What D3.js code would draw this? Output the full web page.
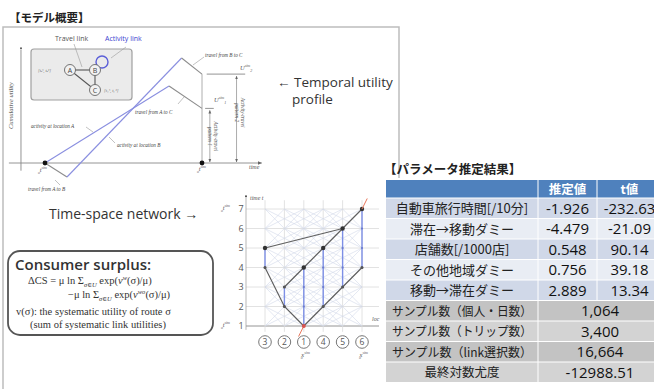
<!DOCTYPE html>
<html>
<head>
<meta charset="utf-8">
<script src="https://cdn.jsdelivr.net/npm/d3@7"></script>
<style>
  body { margin: 0; background: #fff; }
  svg { display: block; }
</style>
</head>
<body>
<svg id="chart" width="654" height="389"></svg>
<script>
// ---------- parameter estimation results ----------
const headerLabels = ["", "推定値", "t値"];
const paramLabels = ["自動車旅行時間[/10分]", "滞在→移動ダミー", "店舗数[/1000店]", "その他地域ダミー", "移動→滞在ダミー"];
const estimates = ["-1.926", "-4.479", "0.548", "0.756", "2.889"];
const tValues = ["-232.63", "-21.09", "90.14", "39.18", "13.34"];
const sampleLabels = ["サンプル数（個人・日数）", "サンプル数（トリップ数）", "サンプル数（link選択数）", "最終対数尤度"];
const sampleValues = ["1,064", "3,400", "16,664", "-12988.51"];

// ---------- temporal utility profile: time vs cumulative utility ----------
const routeA = [{t: 0, u: 0}, {t: 7.9, u: 5.5, link: "activity"}, {t: 10, u: 3.9, link: "travel"}];
const routeB = [{t: 0, u: 0}, {t: 1.4, u: -1, link: "travel"}, {t: 8.7, u: 7.5, link: "activity"}, {t: 10, u: 6.35, link: "travel"}];
const finalUtility = [3.9, 6.35];

// ---------- time-space network ----------
const locations = ["3", "2", "1", "4", "5", "6"];
const timeSteps = [1, 2, 3, 4, 5, 6, 7];
const travelPaths = [
  [["1", 1], ["2", 2], ["3", 4]],
  [["3", 5], ["5", 6]],
  [["2", 3], ["1", 4], ["4", 5], ["5", 6], ["6", 7]],
  [["1", 1], ["4", 2], ["5", 3], ["6", 4]]
];
const stayLinks = [["1", 1, 4], ["4", 2, 5], ["5", 3, 6], ["6", 4, 7], ["3", 4, 5], ["2", 2, 3]];
const keyNodes = [["1", 4], ["4", 5], ["5", 6], ["6", 7], ["3", 5]];
const minorNodes = [["3", 4], ["2", 2], ["2", 3], ["4", 2], ["5", 3], ["6", 4]];

const svg = d3.select("#chart");
const serif = "'Liberation Serif','DejaVu Serif',serif";
const sans = "'Open Sans','Noto Sans',sans-serif";
const jp = "'Noto Sans CJK JP','Noto Sans',sans-serif";

svg.append("rect").attr("width", 654).attr("height", 389).attr("fill", "#fff");

const defs = svg.append("defs");
defs.append("marker").attr("id", "arr").attr("viewBox", "0 0 10 10")
  .attr("refX", 9).attr("refY", 5).attr("markerWidth", 5).attr("markerHeight", 5)
  .attr("orient", "auto-start-reverse")
  .append("path").attr("d", "M0,1 L10,5 L0,9 Z").attr("fill", "#666");

// ---------- section title and frame ----------
svg.append("text").attr("x", 9).attr("y", 22).attr("font-family", jp).attr("font-weight", 700)
  .attr("font-size", 11.5).attr("fill", "#222").text("【モデル概要】");
svg.append("path").attr("d", "M3,389 V27 H399 V178").attr("fill", "none")
  .attr("stroke", "#bdbdbd").attr("stroke-width", 1.5);

// ---------- utility profile ----------
const px = d3.scaleLinear().domain([0, 10]).range([45, 202]);
const py = d3.scaleLinear().domain([0, 7.5]).range([163, 58]);
const gP = svg.append("g");

// axes
gP.append("line").attr("x1", px(-2.3)).attr("x2", px(13.8)).attr("y1", py(0)).attr("y2", py(0))
  .attr("stroke", "#888").attr("stroke-width", 0.9).attr("marker-end", "url(#arr)");
gP.append("line").attr("x1", px(-1.53)).attr("x2", px(-1.53)).attr("y1", py(-0.55)).attr("y2", py(8.1))
  .attr("stroke", "#888").attr("stroke-width", 0.9);
gP.append("circle").attr("cx", px(-1.53)).attr("cy", py(8.2)).attr("r", 1).attr("fill", "#555");
gP.append("text").attr("transform", `translate(13,${py(4.1)}) rotate(-90)`).attr("text-anchor", "middle")
  .attr("font-family", serif).attr("font-style", "italic").attr("font-size", 6.5).attr("fill", "#555")
  .text("Cumulative utility");

// vertical references and final utility levels
gP.append("line").attr("x1", px(10)).attr("x2", px(10)).attr("y1", py(finalUtility[1])).attr("y2", py(0))
  .attr("stroke", "#999").attr("stroke-width", 0.8);
gP.append("line").attr("x1", px(10.3)).attr("x2", px(12.75)).attr("y1", py(finalUtility[1])).attr("y2", py(finalUtility[1]))
  .attr("stroke", "#888").attr("stroke-width", 0.9);
gP.append("line").attr("x1", px(10.2)).attr("x2", px(10.75)).attr("y1", py(finalUtility[0])).attr("y2", py(finalUtility[0]))
  .attr("stroke", "#888").attr("stroke-width", 0.9);
[[10.5, finalUtility[0]], [12.2, finalUtility[1]]].forEach(([t, u]) => {
  gP.append("line").attr("x1", px(t)).attr("x2", px(t)).attr("y1", py(u) + 2).attr("y2", py(0) - 1)
    .attr("stroke", "#888").attr("stroke-width", 0.7)
    .attr("marker-start", "url(#arr)").attr("marker-end", "url(#arr)");
});
[["Activity-travel", "pattern 1", 10.75, 1.9], ["Activity-travel", "pattern 2", 12.5, 3.6]].forEach(([a, b, t, u]) => {
  const tx = gP.append("text").attr("transform", `translate(${px(t)},${py(u)}) rotate(90)`)
    .attr("text-anchor", "middle").attr("font-family", serif).attr("font-style", "italic")
    .attr("font-size", 5.2).attr("fill", "#555");
  tx.append("tspan").attr("x", 0).attr("dy", 0).text(a);
  tx.append("tspan").attr("x", 0).attr("dy", 6).text(b);
});

// route profiles
const profileColor = {activity: "#8a8fe0", travel: "#8c8c8c"};
[routeA, routeB].forEach(route => {
  route.slice(1).forEach((p, i) => {
    const q = route[i];
    gP.append("line").attr("x1", px(q.t)).attr("y1", py(q.u)).attr("x2", px(p.t)).attr("y2", py(p.u))
      .attr("stroke", profileColor[p.link]).attr("stroke-width", 1.1);
  });
});
gP.selectAll("circle.o").data([0, 10]).join("circle").attr("cx", d => px(d)).attr("cy", py(0))
  .attr("r", 2.4).attr("fill", "#111");

// small annotations with pointers
const notes = [
  {txt: "travel from B to C", x: 205, y: 57, p: [204, 57, 193, 65]},
  {txt: "travel from A to C", x: 135, y: 114, p: [178, 104, 184, 97]},
  {txt: "activity at location A", x: 31, y: 128, p: [86, 127, 93, 132]},
  {txt: "activity at location B", x: 117, y: 147, p: [115, 143, 109, 137]},
  {txt: "travel from A to B", x: 28, y: 191, p: [55, 180, 60, 185]}
];
notes.forEach(n => {
  gP.append("text").attr("x", n.x).attr("y", n.y).attr("font-family", serif).attr("font-style", "italic")
    .attr("font-size", 5.2).attr("fill", "#444").text(n.txt);
  gP.append("line").attr("x1", n.p[0]).attr("y1", n.p[1]).attr("x2", n.p[2]).attr("y2", n.p[3])
    .attr("stroke", "#999").attr("stroke-width", 0.6);
});
// symbol with stacked superscript and subscript
const symbol = (x, y, main, sub, sup, g) => {
  const t = g.append("text").attr("x", x).attr("y", y).attr("font-family", serif).attr("font-style", "italic")
    .attr("font-size", 6.5).attr("fill", "#555");
  t.append("tspan").text(main);
  t.append("tspan").attr("font-size", 4).attr("dy", -3).text(sup);
  t.append("tspan").attr("font-size", 4).attr("dx", -9).attr("dy", 5).text(sub);
};
// symbol with superscript followed by subscript
const symbolSeq = (x, y, main, sub, sup, g) => {
  const t = g.append("text").attr("x", x).attr("y", y).attr("font-family", serif).attr("font-style", "italic")
    .attr("font-size", 6.5).attr("fill", "#555");
  t.append("tspan").text(main);
  t.append("tspan").attr("font-size", 4).attr("dy", -3).text(sup);
  t.append("tspan").attr("font-size", 4).attr("dy", 5).text(sub);
};
symbolSeq(240, 70, "U", "2", "sim", gP);
symbolSeq(214, 102, "U", "1", "sim", gP);
symbol(38, 172, "t", "o", "sim", gP);
symbol(197, 171, "t", "o", "sim", gP);
gP.append("text").attr("x", 249).attr("y", 169).attr("font-family", serif).attr("font-style", "italic")
  .attr("font-size", 6).attr("fill", "#555").text("time");

// inset network of locations
const gI = svg.append("g");
gI.append("rect").attr("x", 31).attr("y", 49).attr("width", 101).attr("height", 51).attr("rx", 3)
  .attr("fill", "#ebebeb").attr("stroke", "#a0a0a0").attr("stroke-width", 1.2);
const insetNodes = [{id: "A", gx: 0, gy: 0}, {id: "B", gx: 1, gy: 0}, {id: "C", gx: 1, gy: 1}];
const ix = d3.scaleLinear().domain([0, 1]).range([70, 95]);
const iy = d3.scaleLinear().domain([0, 1]).range([70, 90]);
const nodeById = Object.fromEntries(insetNodes.map(n => [n.id, n]));
[["A", "B"], ["B", "C"], ["A", "C"]].forEach(([a, b]) => {
  gI.append("line").attr("x1", ix(nodeById[a].gx)).attr("y1", iy(nodeById[a].gy))
    .attr("x2", ix(nodeById[b].gx)).attr("y2", iy(nodeById[b].gy)).attr("stroke", "#555").attr("stroke-width", 1.1);
});
gI.append("circle").attr("cx", ix(1) + 7).attr("cy", iy(0) - 8).attr("r", 6)
  .attr("fill", "none").attr("stroke", "#5b5fd8").attr("stroke-width", 1.4);
insetNodes.forEach(n => {
  gI.append("circle").attr("cx", ix(n.gx)).attr("cy", iy(n.gy)).attr("r", 5.5)
    .attr("fill", "#f2f2f2").attr("stroke", "#666").attr("stroke-width", 0.9);
  gI.append("text").attr("x", ix(n.gx)).attr("y", iy(n.gy) + 2.5).attr("text-anchor", "middle")
    .attr("font-family", sans).attr("font-size", 7).attr("fill", "#444").text(n.id);
});
gI.append("text").attr("x", 38).attr("y", 72).attr("font-family", serif).attr("font-style", "italic")
  .attr("font-size", 4.5).attr("fill", "#777").text("[tₐˢ, tₐᵉ]");
gI.append("text").attr("x", 104).attr("y", 92).attr("font-family", serif).attr("font-style", "italic")
  .attr("font-size", 4.5).attr("fill", "#777").text("[t꜀ˢ, t꜀ᵉ]");
gI.append("text").attr("x", 55).attr("y", 41).attr("font-family", sans).attr("font-size", 7)
  .attr("fill", "#555").text("Travel link");
gI.append("text").attr("x", 105).attr("y", 41).attr("font-family", sans).attr("font-size", 7)
  .attr("fill", "#3d3fd0").text("Activity link");
gI.append("line").attr("x1", 74).attr("y1", 44).attr("x2", 82).attr("y2", 67).attr("stroke", "#999").attr("stroke-width", 0.6);
gI.append("line").attr("x1", 126).attr("y1", 47).attr("x2", 111).attr("y2", 58).attr("stroke", "#999").attr("stroke-width", 0.6);

// captions
svg.append("text").attr("x", 277).attr("y", 87).attr("font-family", sans).attr("font-size", 13.5)
  .attr("fill", "#333").text("← Temporal utility");
svg.append("text").attr("x", 292).attr("y", 104).attr("font-family", sans).attr("font-size", 13.5)
  .attr("fill", "#333").text("profile");
svg.append("text").attr("x", 49).attr("y", 219).attr("font-family", sans).attr("font-size", 14)
  .attr("fill", "#333").text("Time-space network →");

// ---------- time-space network diagram ----------
const nx = d3.scalePoint().domain(locations).range([265, 362]);
const ny = d3.scaleLinear().domain([1, 7]).range([326, 209]);
const gN = svg.append("g");

// background grid: time rows, location columns and candidate travel links
timeSteps.forEach(t => {
  gN.append("line").attr("x1", 246).attr("x2", 379).attr("y1", ny(t)).attr("y2", ny(t))
    .attr("stroke", t === 1 ? "#888" : "#dadada").attr("stroke-width", t === 1 ? 0.9 : 0.8);
});
locations.forEach(l => {
  gN.append("line").attr("x1", nx(l)).attr("x2", nx(l)).attr("y1", ny(7.45)).attr("y2", ny(0.7))
    .attr("stroke", "#dadada").attr("stroke-width", 0.8);
});
timeSteps.slice(0, -1).forEach(t => {
  locations.forEach((a, i) => {
    locations.forEach((b, j) => {
      const d = Math.abs(i - j);
      if (d === 1 || d === 2) {
        gN.append("line").attr("x1", nx(a)).attr("y1", ny(t)).attr("x2", nx(b)).attr("y2", ny(t + 1))
          .attr("stroke", "#d2d9ea").attr("stroke-width", 0.6);
      }
    });
  });
});
gN.append("line").attr("x1", 246).attr("x2", 246).attr("y1", ny(0.8)).attr("y2", ny(7.6))
  .attr("stroke", "#999").attr("stroke-width", 0.7);
gN.append("circle").attr("cx", 246).attr("cy", ny(7.65)).attr("r", 1).attr("fill", "#444");
gN.append("text").attr("x", 250).attr("y", 200).attr("font-family", serif).attr("font-style", "italic")
  .attr("font-size", 6).attr("fill", "#555").text("time t");
gN.append("text").attr("x", 372).attr("y", 321).attr("font-family", serif).attr("font-style", "italic")
  .attr("font-size", 6).attr("fill", "#555").text("loc");

timeSteps.forEach(t => {
  gN.append("text").attr("x", 241).attr("y", ny(t) + 3).attr("text-anchor", "middle")
    .attr("font-family", sans).attr("font-size", 9).attr("fill", "#555").text(t);
});
symbol(221, ny(7) + 1, "t", "o", "sim", gN);
symbol(221, ny(1) + 1, "t", "o", "sim", gN);

// stay (activity) links
stayLinks.forEach(([l, t0, t1]) => {
  gN.append("line").attr("x1", nx(l)).attr("x2", nx(l)).attr("y1", ny(t0)).attr("y2", ny(t1))
    .attr("stroke", "#7d8fe6").attr("stroke-width", 1.4);
  d3.range(t0, t1 + 1).forEach(t => {
    gN.append("circle").attr("cx", nx(l)).attr("cy", ny(t)).attr("r", 1.1).attr("fill", "#6b7bd0");
  });
});
// chosen travel links
const lineGen = d3.line().x(d => nx(d[0])).y(d => ny(d[1]));
travelPaths.forEach(p => {
  gN.append("path").attr("d", lineGen(p)).attr("fill", "none").attr("stroke", "#606060").attr("stroke-width", 1.2);
});
minorNodes.forEach(([l, t]) => {
  gN.append("circle").attr("cx", nx(l)).attr("cy", ny(t)).attr("r", 1.5).attr("fill", "#555");
});
keyNodes.forEach(([l, t]) => {
  gN.append("circle").attr("cx", nx(l)).attr("cy", ny(t)).attr("r", 2.2).attr("fill", "#333");
});
// origin/destination stubs
const o = [nx("1"), ny(1)], dN = [nx("6"), ny(7)];
const dx = (dN[0] - o[0]) * 0.09, dy = (dN[1] - o[1]) * 0.09;
[[o[0] - dx, o[1] - dy, o[0], o[1]], [dN[0], dN[1], dN[0] + dx, dN[1] + dy]].forEach(s => {
  gN.append("line").attr("x1", s[0]).attr("y1", s[1]).attr("x2", s[2]).attr("y2", s[3])
    .attr("stroke", "#e8765a").attr("stroke-width", 1);
});
gN.append("circle").attr("cx", o[0]).attr("cy", o[1]).attr("r", 2).attr("fill", "#d9534f");

// circled location labels
locations.forEach(l => {
  gN.append("circle").attr("cx", nx(l)).attr("cy", 342).attr("r", 6.3)
    .attr("fill", "#fff").attr("stroke", "#777").attr("stroke-width", 1);
  gN.append("text").attr("x", nx(l)).attr("y", 345.2).attr("text-anchor", "middle")
    .attr("font-family", sans).attr("font-size", 8.5).attr("fill", "#555").text(l);
});
symbol(nx("1") - 3, 357, "x", "o", "sim", gN);
symbol(nx("6") - 3, 357, "x", "o", "sim", gN);

// ---------- consumer surplus box ----------
const gC = svg.append("g");
gC.append("rect").attr("x", 8).attr("y", 251).attr("width", 205).attr("height", 84).attr("rx", 12)
  .attr("fill", "#fff").attr("stroke", "#555").attr("stroke-width", 1.8);
gC.append("text").attr("x", 15).attr("y", 270).attr("font-family", sans).attr("font-weight", 600)
  .attr("font-size", 15).attr("fill", "#333").text("Consumer surplus:");
const f1 = gC.append("text").attr("x", 28).attr("y", 284).attr("font-family", serif).attr("font-size", 10.5).attr("fill", "#333");
f1.append("tspan").text("ΔCS = μ ln Σ");
f1.append("tspan").attr("font-size", 6.5).attr("dy", 3).attr("font-style", "italic").text("σ∈U");
f1.append("tspan").attr("dy", -3).text(" exp(");
f1.append("tspan").attr("font-style", "italic").text("v");
f1.append("tspan").attr("font-size", 6.5).attr("dy", -4).attr("font-style", "italic").text("w");
f1.append("tspan").attr("dy", 4).text("(σ)/μ)");
const f2 = gC.append("text").attr("x", 68).attr("y", 298).attr("font-family", serif).attr("font-size", 10.5).attr("fill", "#333");
f2.append("tspan").text("−μ ln Σ");
f2.append("tspan").attr("font-size", 6.5).attr("dy", 3).attr("font-style", "italic").text("σ∈U");
f2.append("tspan").attr("dy", -3).text(" exp(");
f2.append("tspan").attr("font-style", "italic").text("v");
f2.append("tspan").attr("font-size", 6.5).attr("dy", -4).attr("font-style", "italic").text("wo");
f2.append("tspan").attr("dy", 4).text("(σ)/μ)");
gC.append("text").attr("x", 16).attr("y", 315).attr("font-family", serif).attr("font-size", 10.5)
  .attr("fill", "#333").text("v(σ): the systematic utility of route σ");
gC.append("text").attr("x", 30).attr("y", 328).attr("font-family", serif).attr("font-size", 10.5)
  .attr("fill", "#333").text("(sum of systematic link utilities)");

// ---------- parameter table ----------
svg.append("text").attr("x", 384).attr("y", 174).attr("font-family", jp).attr("font-weight", 700)
  .attr("font-size", 12.5).attr("fill", "#222").text("【パラメータ推定結果】");

const colEdges = [386, 538, 597, 662];
const headerTop = 180, headerH = 18, rowH = 20.5;
const gT = svg.append("g");
const colCenter = i => (colEdges[i] + colEdges[i + 1]) / 2;

gT.append("rect").attr("x", colEdges[0]).attr("y", headerTop).attr("width", colEdges[3] - colEdges[0])
  .attr("height", headerH).attr("fill", "#4f81bd");
headerLabels.forEach((h, i) => {
  gT.append("text").attr("x", colCenter(i)).attr("y", headerTop + 13.5).attr("text-anchor", "middle")
    .attr("font-family", jp).attr("font-weight", 700).attr("font-size", 12.5).attr("fill", "#fff").text(h);
});
const rowY = i => headerTop + headerH + i * rowH;
const paramFill = ["#d0d8e8", "#e9edf4"];
paramLabels.forEach((lab, i) => {
  gT.append("rect").attr("x", colEdges[0]).attr("y", rowY(i)).attr("width", colEdges[3] - colEdges[0])
    .attr("height", rowH).attr("fill", paramFill[i % 2]);
  gT.append("text").attr("x", colCenter(0)).attr("y", rowY(i) + 15).attr("text-anchor", "middle")
    .attr("font-family", jp).attr("font-size", 13).attr("fill", "#222").text(lab);
  gT.append("text").attr("x", colCenter(1)).attr("y", rowY(i) + 15.5).attr("text-anchor", "middle")
    .attr("font-family", sans).attr("font-size", 15).attr("fill", "#111").text(estimates[i]);
  gT.append("text").attr("x", colCenter(2)).attr("y", rowY(i) + 15.5).attr("text-anchor", "middle")
    .attr("font-family", sans).attr("font-size", 15).attr("fill", "#111").text(tValues[i]);
});
const sampleFill = ["#c3c3c3", "#d3d3d3"];
sampleLabels.forEach((lab, k) => {
  const i = k + paramLabels.length;
  gT.append("rect").attr("x", colEdges[0]).attr("y", rowY(i)).attr("width", colEdges[3] - colEdges[0])
    .attr("height", rowH).attr("fill", sampleFill[k % 2]);
  const lt = gT.append("text").attr("x", colCenter(0)).attr("y", rowY(i) + 15).attr("text-anchor", "middle")
    .attr("font-family", jp).attr("font-size", 12.5).attr("fill", "#222").text(lab);
  // keep long labels inside the first column
  const w = lt.node().getComputedTextLength();
  if (w > 140) lt.attr("textLength", 140).attr("lengthAdjust", "spacingAndGlyphs");
  gT.append("text").attr("x", (colEdges[1] + colEdges[3]) / 2).attr("y", rowY(i) + 15.5).attr("text-anchor", "middle")
    .attr("font-family", sans).attr("font-size", 15).attr("fill", "#111").text(sampleValues[k]);
});
// white cell borders
const nRows = paramLabels.length + sampleLabels.length;
d3.range(nRows + 1).forEach(i => {
  gT.append("line").attr("x1", colEdges[0]).attr("x2", colEdges[3]).attr("y1", rowY(i)).attr("y2", rowY(i))
    .attr("stroke", "#fff").attr("stroke-width", 1);
});
[1, 2].forEach(c => {
  gT.append("line").attr("x1", colEdges[c]).attr("x2", colEdges[c]).attr("y1", headerTop)
    .attr("y2", c === 2 ? rowY(paramLabels.length) : rowY(nRows)).attr("stroke", "#fff").attr("stroke-width", 1);
});
</script>
</body>
</html>
